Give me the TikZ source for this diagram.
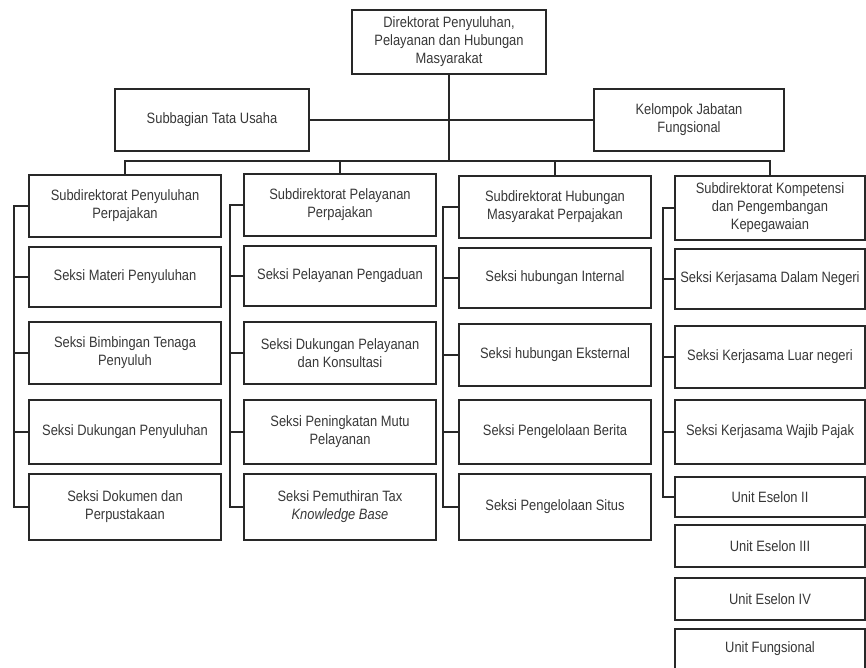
\documentclass[tikz,border=0pt]{standalone}
\usepackage{fontspec}
\setmainfont[FakeStretch=0.86]{Liberation Sans}
\usepackage{tikz}
\usetikzlibrary{calc}
\definecolor{orgline}{RGB}{40,40,40}
\definecolor{orgtext}{RGB}{55,55,55}

\begin{document}
\begin{tikzpicture}[x=1pt, y=-1pt,
    unit/.style={draw=orgline, line width=2pt, align=center, inner sep=0pt,
        text=orgtext, font=\fontsize{15}{18}\selectfont},
    col/.style={unit, minimum width=192pt},
    link/.style={draw=orgline, line width=2pt}]
    \useasboundingbox (0,0) rectangle (866,667);

    % top level
    \node[unit, minimum width=194pt, minimum height=64pt] (dir) at (449,42) {Direktorat Penyuluhan,\\Pelayanan dan Hubungan\\Masyarakat};
    \node[unit, minimum width=194pt, minimum height=62pt] (tu) at (212,120) {Subbagian Tata Usaha};
    \node[unit, minimum width=190pt, minimum height=62pt] (kjf) at (689,120) {Kelompok Jabatan\\Fungsional};

    % column 1
    \node[col, minimum height=62pt] (h1) at (125,206) {Subdirektorat Penyuluhan\\Perpajakan};
    \node[col, minimum height=60pt] (c12) at (125,277) {Seksi Materi Penyuluhan};
    \node[col, minimum height=62pt] (c13) at (125,353) {Seksi Bimbingan Tenaga\\Penyuluh};
    \node[col, minimum height=64pt] (c14) at (125,432) {Seksi Dukungan Penyuluhan};
    \node[col, minimum height=66pt] (c15) at (125,507) {Seksi Dokumen dan\\Perpustakaan};

    % column 2
    \node[col, minimum height=62pt] (h2) at (340,205) {Subdirektorat Pelayanan\\Perpajakan};
    \node[col, minimum height=60pt] (c22) at (340,276) {Seksi Pelayanan Pengaduan};
    \node[col, minimum height=62pt] (c23) at (340,353) {Seksi Dukungan Pelayanan\\dan Konsultasi};
    \node[col, minimum height=64pt] (c24) at (340,432) {Seksi Peningkatan Mutu\\Pelayanan};
    \node[col, minimum height=66pt] (c25) at (340,507) {Seksi Pemuthiran Tax\\\textit{Knowledge Base}};

    % column 3
    \node[col, minimum height=62pt] (h3) at (555,207) {Subdirektorat Hubungan\\Masyarakat Perpajakan};
    \node[col, minimum height=60pt] (c32) at (555,278) {Seksi hubungan Internal};
    \node[col, minimum height=62pt] (c33) at (555,355) {Seksi hubungan Eksternal};
    \node[col, minimum height=64pt] (c34) at (555,432) {Seksi Pengelolaan Berita};
    \node[col, minimum height=66pt] (c35) at (555,507) {Seksi Pengelolaan Situs};

    % column 4
    \node[col, minimum width=190pt, minimum height=64pt] (h4) at (770,208) {Subdirektorat Kompetensi\\dan Pengembangan\\Kepegawaian};
    \node[col, minimum width=190pt, minimum height=60pt] (c42) at (770,279) {Seksi Kerjasama Dalam Negeri};
    \node[col, minimum width=190pt, minimum height=62pt] (c43) at (770,357) {Seksi Kerjasama Luar negeri};
    \node[col, minimum width=190pt, minimum height=64pt] (c44) at (770,432) {Seksi Kerjasama Wajib Pajak};
    \node[col, minimum width=190pt, minimum height=40pt] (c45) at (770,497) {Unit Eselon II};
    \node[col, minimum width=190pt, minimum height=42pt] (c46) at (770,546) {Unit Eselon III};
    \node[col, minimum width=190pt, minimum height=42pt] (c47) at (770,599) {Unit Eselon IV};
    \node[col, minimum width=190pt, minimum height=40pt] (c48) at (770,649) {Unit Fungsional};

    % connectors
    \coordinate (bus) at (449,161);
    \draw[link] (dir.south) -- (bus);
    \draw[link] (tu.east) -- (kjf.west);
    \draw[link] (h1.north) |- (bus) -| (h4.north);
    \draw[link] (h2.north) -- (h2.north |- bus);
    \draw[link] (h3.north) -- (h3.north |- bus);
    \foreach \c/\x in {1/14, 2/230, 3/443, 4/663} {
        \coordinate (sp\c) at (\x,0);
        \draw[link] (h\c.west) -| (sp\c |- c\c5.west) -- (c\c5.west);
        \foreach \r in {2,3,4}
            \draw[link] (c\c\r.west) -- (c\c\r.west -| sp\c);
    }
\end{tikzpicture}
\end{document}
